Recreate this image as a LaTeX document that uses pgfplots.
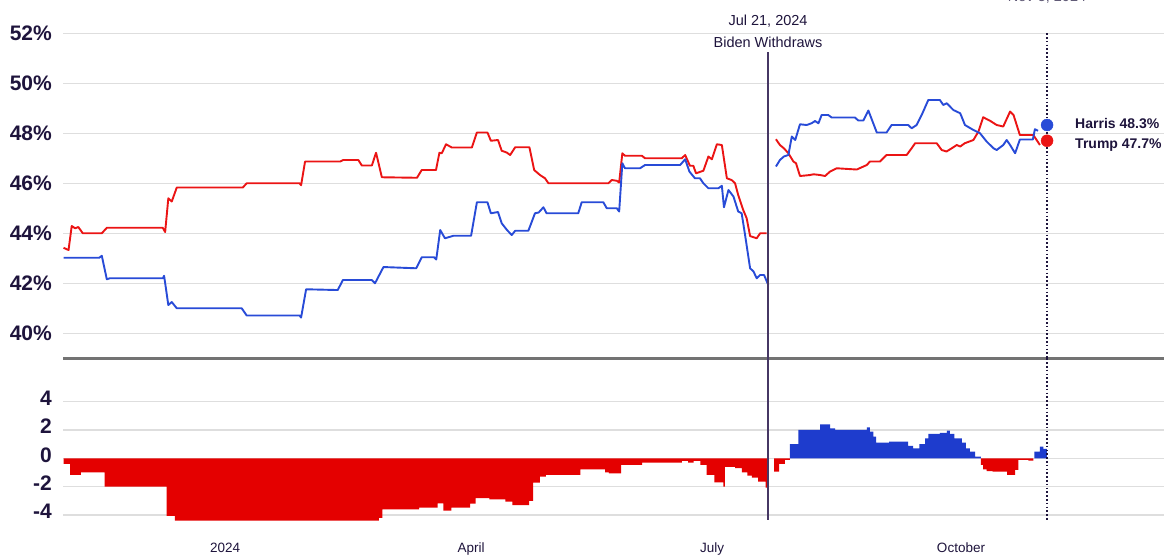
\documentclass[border=0pt]{standalone}
\usepackage{pgfplots}
\pgfplotsset{compat=1.18}
\usepackage{fontspec}
\setmainfont{Liberation Sans}
\definecolor{txt}{RGB}{30,20,60}
\definecolor{trump}{RGB}{235,20,20}
\definecolor{harris}{RGB}{40,75,215}
\definecolor{barred}{RGB}{228,0,0}
\definecolor{barblue}{RGB}{30,60,205}
\definecolor{gridc}{RGB}{222,222,222}
\definecolor{sepc}{RGB}{115,115,115}
\definecolor{evt}{RGB}{70,55,100}
\begin{document}
\begin{tikzpicture}[line join=round, line cap=round]
% ---------------- top panel ----------------
\begin{axis}[
  at={(63pt,195.7pt)}, anchor=south west,
  scale only axis, width=1101pt, height=358.3pt,
  xmin=-65.2, xmax=351.9, ymin=39, ymax=53.33,
  clip=false,
  axis line style={draw=none},
  xtick=\empty,
  ytick={40,42,44,46,48,50,52},
  yticklabels={40\%,42\%,44\%,46\%,48\%,50\%,52\%},
  yticklabel style={font=\fontsize{21}{25}\selectfont\bfseries, text=txt, anchor=east, inner sep=0pt, xshift=-11pt},
  major tick length=0pt,
  ymajorgrids, grid style={gridc, line width=1.3pt, line cap=butt},
]
\draw[sepc, line width=2.5pt, line cap=butt] (axis cs:-65.2,39) -- (axis cs:351.9,39);
% Trump vs Biden
\addplot[trump, line width=1.9pt] coordinates {
(-65.0,43.42) (-63.1,43.33) (-61.9,44.29) (-60.6,44.2) (-59.4,44.25) (-57.7,44.0) (-50.5,44.0) (-48.6,44.22) (-27.4,44.22) (-26.5,44.05) (-25.3,45.4) (-24.0,45.27) (-22.1,45.83) (2.9,45.83) (4.4,46.0) (24.4,46.0) (25.0,45.92) (26.5,46.87) (39.8,46.87) (41.0,46.93) (46.7,46.93) (48.0,46.71) (51.8,46.71) (53.4,47.22) (55.6,46.24) (68.9,46.22) (70.7,46.53) (76.1,46.53) (77.4,47.22) (78.3,47.2) (79.9,47.56) (82.1,47.43) (89.7,47.43) (91.6,48.03) (95.6,48.03) (96.9,47.7) (99.6,47.73) (101.0,47.3) (102.9,47.23) (104.2,47.13) (106.1,47.44) (111.5,47.44) (113.3,46.53) (115.5,46.33) (117.4,46.2) (118.7,46.0) (141.4,46.0) (142.7,46.13) (144.6,46.1) (145.5,46.03) (146.7,47.2) (147.7,47.1) (154.1,47.1) (155.3,47.0) (169.2,47.0) (170.5,47.13) (172.3,46.7) (173.6,46.7) (174.6,46.4) (177.4,46.5) (179.3,47.07) (180.6,46.96) (182.5,47.56) (184.4,47.53) (186.3,46.2) (188.1,46.13) (189.4,46.0) (190.6,45.53) (192.5,44.93) (193.8,44.6) (195.1,43.89) (197.6,43.8) (198.9,44.0) (201.4,44.0)
};
\addplot[harris, line width=1.9pt] coordinates {
(-65.0,43.02) (-51.5,43.02) (-50.5,43.1) (-48.6,42.16) (-47.5,42.2) (-27.4,42.2) (-26.9,42.3) (-25.3,41.13) (-24.0,41.25) (-22.1,41.0) (2.5,41.0) (4.4,40.71) (24.4,40.71) (25.0,40.63) (26.9,41.76) (38.9,41.73) (40.8,42.13) (51.8,42.13) (53.0,42.0) (56.2,42.65) (68.6,42.6) (70.7,43.04) (75.4,43.04) (76.2,42.95) (77.7,44.13) (79.5,43.8) (82.7,43.9) (89.4,43.9) (91.6,45.24) (95.6,45.24) (96.9,44.8) (99.6,44.85) (101.0,44.4) (103.0,44.13) (104.8,43.93) (106.1,44.1) (111.1,44.1) (113.6,44.8) (115.0,44.83) (116.8,45.04) (118.0,44.8) (130.0,44.8) (131.3,45.24) (139.5,45.24) (140.8,45.0) (144.6,45.0) (145.5,44.87) (146.7,46.8) (147.7,46.6) (153.4,46.6) (155.3,46.73) (168.6,46.73) (170.5,46.96) (172.1,46.47) (174.2,46.2) (176.1,46.2) (177.4,46.0) (179.3,45.8) (183.1,45.8) (184.4,45.9) (185.2,45.04) (186.9,45.73) (188.8,45.47) (190.6,44.87) (191.9,44.8) (193.2,43.93) (195.1,42.6) (196.4,42.47) (197.6,42.2) (198.9,42.33) (200.4,42.33) (202.0,41.93)
};
% Trump vs Harris
\addplot[trump, line width=1.9pt] coordinates {
(204.9,47.76) (206.4,47.53) (207.9,47.4) (209.6,47.2) (211.5,46.87) (212.5,46.8) (214.0,46.29) (217.8,46.33) (219.1,46.36) (221.6,46.33) (223.5,46.29) (225.4,46.47) (227.9,46.6) (235.5,46.55) (239.3,46.73) (240.5,46.87) (244.3,46.87) (246.8,47.13) (254.4,47.13) (256.3,47.4) (257.6,47.6) (265.8,47.6) (267.7,47.33) (269.5,47.27) (271.5,47.4) (273.4,47.53) (274.7,47.47) (276.4,47.6) (279.7,47.73) (281.6,48.07) (283.4,48.64) (286.0,48.5) (288.5,48.33) (291.0,48.27) (293.6,48.87) (294.9,48.73) (297.3,47.93) (302.4,47.93) (304.9,47.53)
};
\addplot[harris, line width=1.9pt] coordinates {
(204.9,46.67) (206.4,46.93) (207.9,47.07) (209.6,47.13) (210.9,47.87) (212.2,47.73) (214.0,48.36) (216.5,48.33) (218.4,48.4) (219.7,48.49) (221.0,48.4) (222.2,48.73) (224.7,48.73) (226.0,48.63) (234.8,48.63) (236.1,48.51) (238.0,48.51) (239.9,48.91) (243.1,48.03) (246.8,48.03) (248.7,48.33) (255.0,48.33) (256.3,48.2) (258.2,48.33) (260.1,48.73) (262.6,49.33) (267.0,49.33) (268.3,49.13) (269.6,49.2) (272.1,48.93) (274.7,48.8) (276.5,48.33) (279.7,48.13) (282.2,48.0) (284.7,47.67) (287.3,47.4) (288.5,47.33) (291.0,47.53) (292.3,47.73) (293.6,47.53) (295.5,47.2) (297.3,47.75) (302.2,47.75) (303.0,48.16) (304.2,48.1)
};
\draw[evt, line width=1.5pt, line cap=butt] (axis cs:201.9,51.25) -- (axis cs:201.9,39);
\draw[txt, line width=1.3pt, line cap=butt, dash pattern=on 1.6pt off 2.2pt] (axis cs:307.6,52) -- (axis cs:307.6,39);
\addplot[only marks, mark=*, mark size=6pt, harris] coordinates {(307.6,48.33)};
\addplot[only marks, mark=*, mark size=6pt, trump] coordinates {(307.6,47.7)};
\node[font=\fontsize{14.5}{17}\selectfont, text=txt, inner sep=0pt] at (axis cs:201.9,52.47) {Jul 21, 2024};
\node[font=\fontsize{14.5}{17}\selectfont, text=txt, inner sep=0pt] at (axis cs:201.9,51.64) {Biden Withdraws};
\node[font=\fontsize{14.5}{17}\selectfont, text=txt!70, anchor=base, inner sep=0pt] at (axis cs:307.6,53.25) {Nov 5, 2024};
\node[font=\fontsize{14}{17}\selectfont\bfseries, text=txt, anchor=west, inner sep=0pt] at (axis cs:318.2,48.4) {Harris 48.3\%};
\node[font=\fontsize{14}{17}\selectfont\bfseries, text=txt, anchor=west, inner sep=0pt] at (axis cs:318.2,47.53) {Trump 47.7\%};
\end{axis}
% ---------------- bottom panel ----------------
\begin{axis}[
  at={(63pt,32pt)}, anchor=south west,
  scale only axis, width=1101pt, height=163.7pt,
  xmin=-65.2, xmax=351.9, ymin=-4.5, ymax=7.06,
  clip=false,
  axis line style={draw=none},
  xtick={-3.8,89.4,180.7,275}, xticklabels={2024,April,July,October},
  xticklabel style={font=\fontsize{13.5}{16}\selectfont, text=txt, anchor=base, inner sep=0pt, yshift=-30.7pt},
  ytick={-4,-2,0,2,4}, yticklabels={-4,-2,0,2,4},
  yticklabel style={font=\fontsize{21}{25}\selectfont\bfseries, text=txt, anchor=east, inner sep=0pt, xshift=-11pt, yshift=3.5pt},
  major tick length=0pt,
  ymajorgrids, grid style={gridc, line width=1.3pt, line cap=butt},
]
\addplot[ybar interval, fill=barred, draw=none] coordinates {
(-65.0,-0.4) (-62.5,-1.18) (-58.4,-1.0) (-49.4,-2.0) (-25.9,-4.07) (-22.8,-4.4) (54.5,-4.2) (55.8,-3.6) (69.7,-3.48) (76.7,-3.18) (78.9,-3.7) (81.9,-3.48) (89.0,-3.2) (91.1,-2.82) (96.3,-2.9) (102.4,-3.06) (105.0,-3.3) (111.4,-3.0) (112.9,-1.72) (115.5,-1.3) (117.7,-1.18) (130.8,-0.78) (140.2,-1.0) (141.6,-1.06) (146.2,-0.47) (154.2,-0.3) (169.3,-0.19) (171.6,-0.3) (173.7,-0.19) (176.3,-0.47) (178.6,-1.18) (181.6,-1.7) (185.0,-2.0) (185.5,-0.6) (189.4,-0.7) (192.0,-1.0) (194.1,-1.22) (195.8,-1.36) (198.1,-1.65) (201.0,-2.07) (202.0,0)
};
\addplot[ybar interval, fill=barred, draw=none] coordinates {
(204.2,-0.94) (206.1,-0.4) (208.3,-0.12) (210.2,0)
};
\addplot[ybar interval, fill=barblue, draw=none] coordinates {
(210.2,1.0) (213.4,2.0) (221.6,2.4) (225.4,2.12) (227.3,2.0) (239.3,2.19) (240.5,1.88) (241.8,1.53) (242.8,1.1) (247.8,1.18) (255.0,0.87) (256.9,0.7) (259.2,1.0) (261.4,1.41) (262.6,1.72) (267.0,1.8) (269.6,1.95) (270.8,1.72) (272.5,1.41) (275.3,1.1) (276.8,0.7) (278.4,0.47) (280.3,0.12) (282.5,0)
};
\addplot[ybar interval, fill=barred, draw=none] coordinates {
(282.5,-0.47) (283.4,-0.78) (284.7,-0.9) (287.0,-0.94) (292.5,-1.18) (295.5,-0.82) (296.7,-0.12) (300.5,-0.16) (302.4,0)
};
\addplot[ybar interval, fill=barblue, draw=none] coordinates {
(302.8,0.47) (304.9,0.82) (306.2,0.66) (307.5,0)
};
\draw[evt, line width=1.5pt, line cap=butt] (axis cs:201.9,7.06) -- (axis cs:201.9,-4.35);
\draw[txt, line width=1.3pt, line cap=butt, dash pattern=on 1.6pt off 2.2pt] (axis cs:307.6,7.06) -- (axis cs:307.6,-4.35);
\end{axis}
\pgfresetboundingbox
\useasboundingbox (0,0) rectangle (1164pt,554pt);
\end{tikzpicture}
\end{document}
